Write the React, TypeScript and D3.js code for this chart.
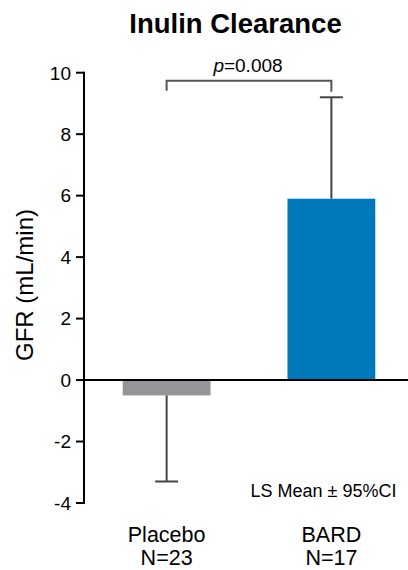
import React from "react";
import * as d3 from "d3";

const categories = ["Placebo", "BARD"];
const nLabels = ["N=23", "N=17"];
const means = [-0.5, 5.9];
const ciLow = [-3.3, 5.9];
const ciHigh = [-0.5, 9.2];
const colors = ["#939598", "#0079BA"];
const yTicks = [-4, -2, 0, 2, 4, 6, 8, 10];
const pText = "=0.008";

export default function App() {
  const W = 408, H = 570;
  const axisX = 84;
  const y = d3.scaleLinear().domain([-4, 10]).range([503, 72.7]);
  const x = d3.scaleBand<string>().domain(categories).range([axisX, 414]).paddingInner(0.467).paddingOuter(0.235);
  const font = "Arial, 'Liberation Sans', Helvetica, sans-serif";
  const cx = (c: string) => (x(c) as number) + x.bandwidth() / 2;
  const bracketY = y(10) + 8;
  return (
    <svg width={W} height={H} style={{ position: "absolute", left: 0, top: 0 }} fontFamily={font}>
      <rect width={W} height={H} fill="#fff" />
      <text x={235.5} y={33} textAnchor="middle" fontSize={27.5} fontWeight="bold" fill="#000">Inulin Clearance</text>
      {/* bars */}
      {categories.map((c, i) => (
        <rect key={c} x={x(c)} width={x.bandwidth()} y={y(Math.max(0, means[i]))}
          height={Math.abs(y(means[i]) - y(0))} fill={colors[i]} />
      ))}
      {/* error bars */}
      {categories.map((c, i) => {
        const ext = means[i] < 0 ? ciLow[i] : ciHigh[i];
        return (
          <g key={c} stroke="#444" strokeWidth={2}>
            <line x1={cx(c)} x2={cx(c)} y1={y(means[i])} y2={y(ext)} />
            <line x1={cx(c) - 11.5} x2={cx(c) + 11.5} y1={y(ext)} y2={y(ext)} />
          </g>
        );
      })}
      {/* zero line */}
      <line x1={axisX} x2={W} y1={y(0)} y2={y(0)} stroke="#000" strokeWidth={2} />
      {/* y axis */}
      <line x1={axisX} x2={axisX} y1={y(10) - 1} y2={y(-4) + 1} stroke="#000" strokeWidth={2} />
      {yTicks.map(t => (
        <g key={t}>
          <line x1={axisX - 8} x2={axisX} y1={y(t)} y2={y(t)} stroke="#000" strokeWidth={2} />
          <text x={axisX - 13} y={y(t)} dy="0.36em" textAnchor="end" fontSize={19} fill="#000">{t}</text>
        </g>
      ))}
      <text transform={`translate(33,285) rotate(-90)`} textAnchor="middle" fontSize={24} fill="#000">GFR (mL/min)</text>
      {/* bracket */}
      <path d={`M${cx(categories[0])},${bracketY + 10}V${bracketY}H${cx(categories[1])}V${bracketY + 11}`} fill="none" stroke="#555" strokeWidth={2} />
      <text x={248} y={72} textAnchor="middle" fontSize={19} fill="#000">
        <tspan fontStyle="italic">p</tspan>{pText}
      </text>
      <text x={323.5} y={497} textAnchor="middle" fontSize={18} fill="#000">LS Mean ± 95%CI</text>
      {categories.map((c, i) => (
        <g key={c}>
          <text x={cx(c)} y={541.5} textAnchor="middle" fontSize={21.5} fill="#000">{c}</text>
          <text x={cx(c)} y={565} textAnchor="middle" fontSize={21.5} fill="#000">{nLabels[i]}</text>
        </g>
      ))}
    </svg>
  );
}
